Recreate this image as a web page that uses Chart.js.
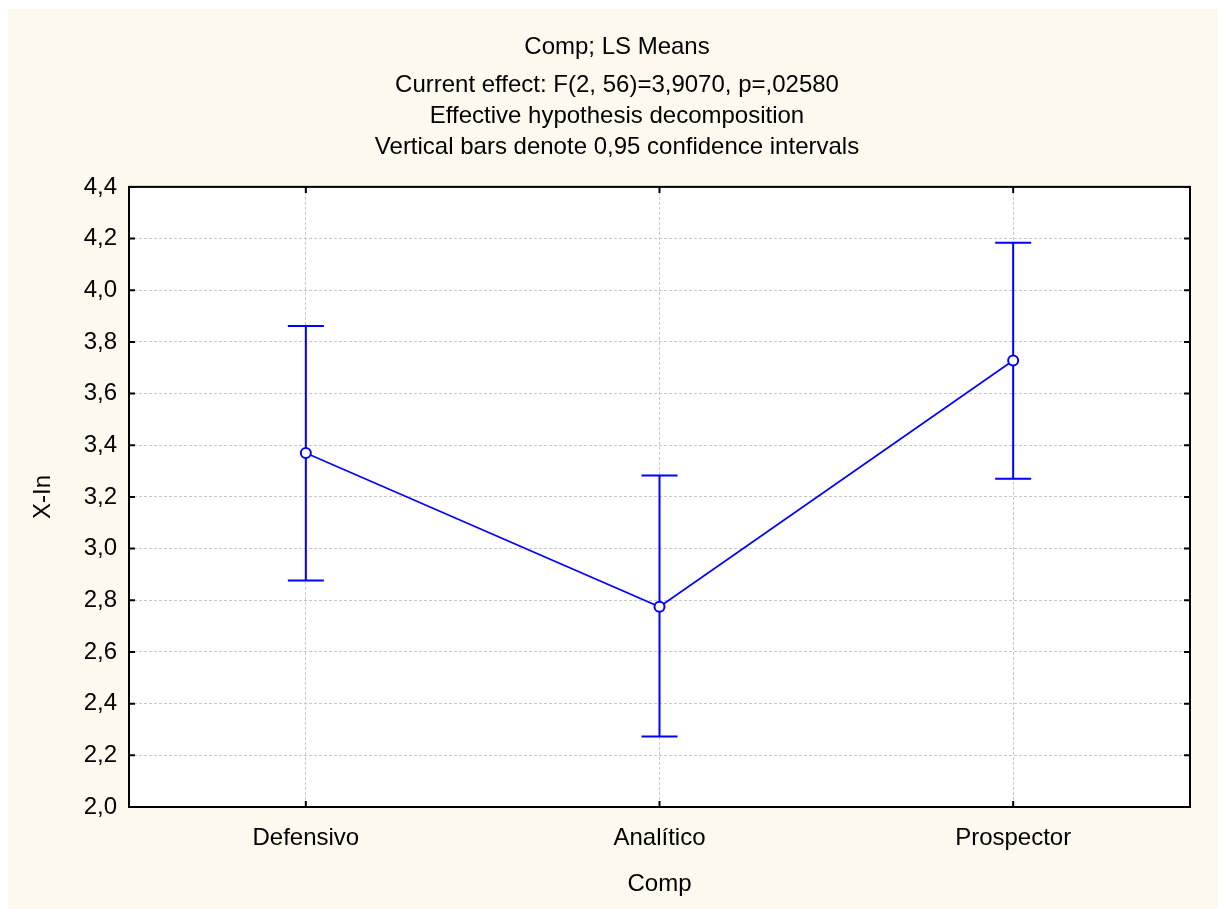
<!DOCTYPE html>
<html>
<head>
<meta charset="utf-8">
<script src="https://cdn.jsdelivr.net/npm/chart.js@4.4.1/dist/chart.umd.min.js"></script>
<style>
  body { margin: 0; background: #ffffff; }
  #lsmeans { position: absolute; left: 8px; top: 9px; }
</style>
</head>
<body>
<canvas id="lsmeans" width="1210" height="900"></canvas>
<script>
// LS means with 0,95 confidence intervals
var categorias = ['Defensivo', 'Analítico', 'Prospector'];
var medias = [3.37, 2.775, 3.728];
var limInferior = [2.877, 2.273, 3.27];
var limSuperior = [3.862, 3.283, 4.184];
var tituloLineas = ['Current effect: F(2, 56)=3,9070, p=,02580',
                    'Effective hypothesis decomposition',
                    'Vertical bars denote 0,95 confidence intervals'];

var azul = '#0000ff';
var fuente = 'Liberation Sans, Arial, sans-serif';

Chart.defaults.font.family = fuente;
Chart.defaults.color = '#000000';

// fondo crema, area blanca, borde y marcas hacia adentro
var marcoPlugin = {
  id: 'marco',
  beforeDraw: function(chart) {
    var c = chart.ctx, a = chart.chartArea;
    c.save();
    c.fillStyle = '#fdf9ee';
    c.fillRect(0, 0, chart.width, chart.height);
    c.fillStyle = '#ffffff';
    c.fillRect(a.left, a.top, a.right - a.left, a.bottom - a.top);
    c.restore();
  },
  afterDatasetsDraw: function(chart) {
    var c = chart.ctx, a = chart.chartArea;
    var x = chart.scales.x, y = chart.scales.y;
    c.save();
    c.strokeStyle = '#000000';
    c.lineWidth = 2;
    c.strokeRect(a.left, a.top, a.right - a.left, a.bottom - a.top);
    c.beginPath();
    y.ticks.forEach(function(t, i) {
      var py = y.getPixelForTick(i);
      c.moveTo(a.left, py); c.lineTo(a.left + 6, py);
      c.moveTo(a.right, py); c.lineTo(a.right - 6, py);
    });
    x.ticks.forEach(function(t, i) {
      var px = x.getPixelForTick(i);
      c.moveTo(px, a.bottom); c.lineTo(px, a.bottom - 6);
      c.moveTo(px, a.top); c.lineTo(px, a.top + 6);
    });
    c.stroke();
    c.restore();
  }
};

// barras de intervalo de confianza
var barrasPlugin = {
  id: 'barras',
  beforeDatasetsDraw: function(chart) {
    var c = chart.ctx;
    var x = chart.scales.x, y = chart.scales.y;
    c.save();
    c.strokeStyle = azul;
    c.lineWidth = 2;
    c.beginPath();
    for (var i = 0; i < categorias.length; i++) {
      var px = x.getPixelForValue(i);
      var y0 = y.getPixelForValue(limInferior[i]);
      var y1 = y.getPixelForValue(limSuperior[i]);
      c.moveTo(px, y0); c.lineTo(px, y1);
      c.moveTo(px - 18, y0); c.lineTo(px + 18, y0);
      c.moveTo(px - 18, y1); c.lineTo(px + 18, y1);
    }
    c.stroke();
    c.restore();
  }
};

var ctx = document.getElementById('lsmeans');

var grafico = new Chart(ctx, {
  type: 'line',
  data: {
    labels: categorias,
    datasets: [{
      label: 'X-In',
      data: medias,
      borderColor: azul,
      borderWidth: 1.6,
      backgroundColor: '#ffffff',
      pointRadius: 5,
      pointBorderWidth: 2,
      pointBorderColor: azul,
      pointBackgroundColor: '#ffffff',
      tension: 0
    }]
  },
  options: {
    responsive: false,
    animation: false,
    layout: { padding: { left: 8, right: 0, top: 0, bottom: 0 } },
    plugins: {
      legend: { display: false },
      tooltip: { enabled: false },
      title: {
        display: true,
        text: 'Comp; LS Means',
        font: { size: 24, weight: 'normal', lineHeight: 1.0 },
        padding: { top: 26, bottom: 4 }
      },
      subtitle: {
        display: true,
        text: tituloLineas,
        color: '#000000',
        font: { size: 24, weight: 'normal', lineHeight: 1.29 },
        padding: { top: 6.5, bottom: 24.5 }
      }
    },
    scales: {
      x: {
        offset: true,
        grid: { offset: false, color: '#c8c8c8', lineWidth: 1, drawTicks: false },
        border: { display: false, dash: [3, 2] },
        ticks: { font: { size: 24 }, padding: 17 },
        title: { display: true, text: 'Comp', font: { size: 24 }, padding: { top: 0, bottom: 10 } },
        afterFit: function(s) { s.height = 102; }
      },
      y: {
        min: 2.0,
        max: 4.4,
        grid: { color: '#c8c8c8', lineWidth: 1, drawTicks: false },
        border: { display: false, dash: [3, 2] },
        ticks: {
          stepSize: 0.2,
          font: { size: 24 },
          padding: 12,
          callback: function(v) { return v.toFixed(1).replace('.', ','); }
        },
        title: { display: true, text: 'X-In', font: { size: 24 }, padding: { top: 13, bottom: 0 } },
        afterFit: function(s) { s.width = 113; }
      },
      // margen derecho vacio
      margen: {
        position: 'right',
        display: true,
        grid: { display: false },
        border: { display: false },
        ticks: { display: false },
        afterFit: function(s) { s.width = 28; }
      }
    }
  },
  plugins: [marcoPlugin, barrasPlugin]
});
</script>
</body>
</html>
